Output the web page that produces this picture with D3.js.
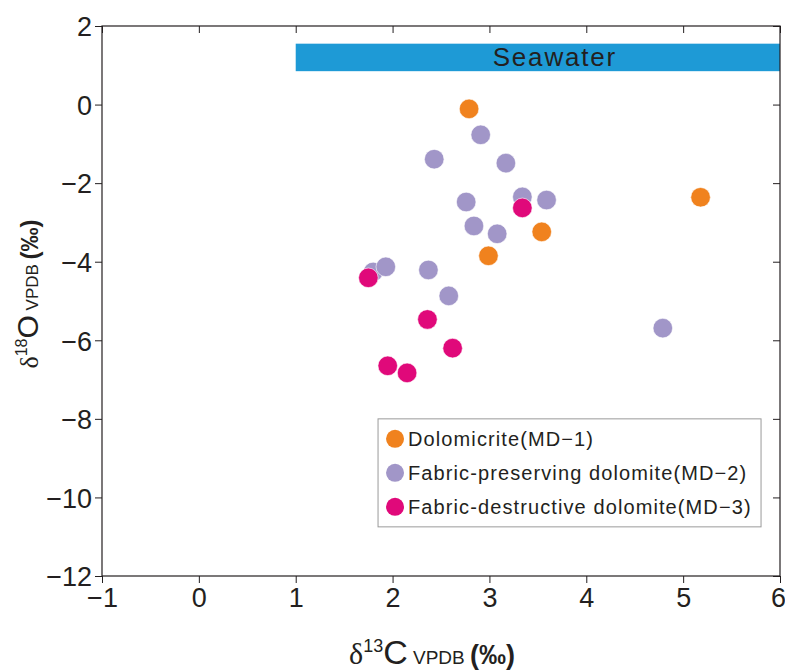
<!DOCTYPE html>
<html>
<head>
<meta charset="utf-8">
<script src="https://cdn.jsdelivr.net/npm/d3@7"></script>
<style>
  body { margin: 0; background: #fff; }
  svg text { font-family: "Liberation Sans", Arial, sans-serif; fill: #231f20; }
  .tick text { font-family: "Liberation Sans Narrow", "Liberation Sans", Arial, sans-serif; }
</style>
</head>
<body>
<div id="chart"></div>
<script>
// ── Data ──
const xTicks = [-1, 0, 1, 2, 3, 4, 5, 6];
const yTicks = [2, 0, -2, -4, -6, -8, -10, -12];

const seawaterC = [1, 6];
const seawaterO = [0.85, 1.55];

const md1 = [ // Dolomicrite
  [2.79, -0.11], [5.18, -2.36], [3.54, -3.24], [2.99, -3.85]
];
const md2 = [ // Fabric-preserving dolomite
  [2.91, -0.77], [2.43, -1.39], [3.17, -1.49], [3.34, -2.35], [3.59, -2.43],
  [2.76, -2.48], [2.84, -3.09], [3.08, -3.29], [1.80, -4.26], [1.93, -4.13],
  [2.37, -4.21], [2.58, -4.87], [4.79, -5.69]
];
const md3 = [ // Fabric-destructive dolomite
  [3.34, -2.63], [1.75, -4.41], [2.36, -5.47], [2.62, -6.20], [1.95, -6.65], [2.15, -6.83]
];

const groups = [
  { name: 'Dolomicrite(MD\u22121)', color: '#f0821e', data: md1 },
  { name: 'Fabric-preserving dolomite(MD\u22122)', color: '#a196c8', data: md2 },
  { name: 'Fabric-destructive dolomite(MD\u22123)', color: '#e0097a', data: md3 }
];

// ── Layout ──
const W = 785, H = 670;
const margin = { top: 26, right: 5, bottom: 94, left: 102 };
const width = W - margin.left - margin.right;
const height = H - margin.top - margin.bottom;
const fmt = d => d < 0 ? '\u2212' + Math.abs(d) : String(d);

const svg = d3.select('#chart').append('svg')
  .attr('width', W).attr('height', H);
const g = svg.append('g')
  .attr('transform', `translate(${margin.left},${margin.top})`);

const x = d3.scaleLinear().domain([-1, 6]).range([0, width]);
const y = d3.scaleLinear().domain([-12, 2]).range([height, 0]);

// Seawater band
g.append('rect')
  .attr('x', x(seawaterC[0])).attr('width', x(seawaterC[1]) - x(seawaterC[0]))
  .attr('y', y(seawaterO[1])).attr('height', y(seawaterO[0]) - y(seawaterO[1]))
  .attr('fill', '#1e9ad6');
g.append('text')
  .attr('x', (x(seawaterC[0]) + x(seawaterC[1])) / 2 + 17)
  .attr('y', (y(seawaterO[0]) + y(seawaterO[1])) / 2 + 9)
  .attr('text-anchor', 'middle')
  .style('font-size', '26px').style('letter-spacing', '1.8px')
  .text('Seawater');

// Axes
const styleAxis = sel => {
  sel.select('.domain').remove();
  sel.selectAll('line').attr('stroke', '#231f20');
  sel.selectAll('text').style('font-size', '27px').attr('fill', '#231f20');
};

const xAxis = g.append('g').attr('transform', `translate(0,${height})`)
  .call(d3.axisBottom(x).tickValues(xTicks).tickFormat(fmt).tickSize(7).tickPadding(5))
  .call(styleAxis);
xAxis.selectAll('text').filter(d => d === 6).attr('dx', -2);
g.append('g')
  .call(d3.axisLeft(y).tickValues(yTicks).tickFormat(fmt).tickSize(7).tickPadding(3))
  .call(styleAxis)
  .selectAll('text').attr('dy', '0.36em');
g.append('g')
  .call(d3.axisTop(x).tickValues(xTicks).tickFormat('').tickSize(-7))
  .call(styleAxis);
g.append('g').attr('transform', `translate(${width},0)`)
  .call(d3.axisRight(y).tickValues(yTicks).tickFormat('').tickSize(-7))
  .call(styleAxis);

g.append('rect')
  .attr('width', width).attr('height', height)
  .attr('fill', 'none').attr('stroke', '#231f20').attr('stroke-width', 1.2);

// Points
groups.forEach(grp => {
  g.selectAll(null).data(grp.data).enter()
    .append('circle')
    .attr('cx', d => x(d[0]))
    .attr('cy', d => y(d[1]))
    .attr('r', 9.8)
    .attr('fill', grp.color)
    .attr('stroke', '#fff').attr('stroke-width', 0.6);
});

// Legend
const legend = g.append('g')
  .attr('transform', `translate(${x(1.85)},${y(-8.0)})`);
legend.append('rect')
  .attr('width', 383).attr('height', 108)
  .attr('fill', '#fff').attr('stroke', '#9a9a9a').attr('stroke-width', 1);
groups.forEach((grp, i) => {
  const ly = 20 + i * 34;
  legend.append('circle')
    .attr('cx', 17).attr('cy', ly).attr('r', 9).attr('fill', grp.color);
  legend.append('text')
    .attr('x', 30).attr('y', ly + 7)
    .style('font-size', '20px').style('letter-spacing', '1.1px')
    .text(grp.name);
});

// Axis titles
const xt = svg.append('text')
  .attr('x', 432).attr('y', 664).attr('text-anchor', 'middle');
xt.append('tspan').style('font-family', '"Liberation Serif", serif').style('font-size', '30px').text('\u03b4');
xt.append('tspan').attr('dy', -12).style('font-size', '18px').text('13');
xt.append('tspan').attr('dy', 12).style('font-size', '34px').text('C');
xt.append('tspan').style('font-size', '19px').text(' VPDB ');
xt.append('tspan').style('font-size', '27px').style('font-weight', 'bold').text('(\u2030)');

const yt = svg.append('text')
  .attr('transform', 'translate(38,294) rotate(-90)')
  .attr('text-anchor', 'middle');
yt.append('tspan').style('font-family', '"Liberation Serif", serif').style('font-size', '26px').text('\u03b4');
yt.append('tspan').attr('dy', -11).style('font-size', '16px').text('18');
yt.append('tspan').attr('dy', 11).style('font-size', '30px').text('O');
yt.append('tspan').style('font-size', '17px').text(' VPDB ');
yt.append('tspan').style('font-size', '24px').style('font-weight', 'bold').text('(\u2030)');
</script>
</body>
</html>
